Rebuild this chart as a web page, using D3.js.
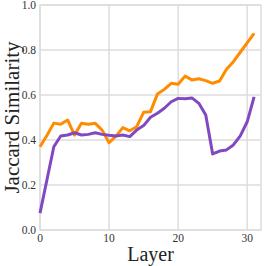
<!DOCTYPE html>
<html>
<head>
<meta charset="utf-8">
<script src="https://cdn.jsdelivr.net/npm/d3@7"></script>
<style>
  html, body { margin: 0; padding: 0; background: #fff; }
  svg { display: block; }
</style>
</head>
<body>
<div class="chart"></div>
<script>
  // data
  var layers      = d3.range(0, 32);
  var orangeVals  = [0.37, 0.42, 0.475, 0.47, 0.489, 0.422, 0.474, 0.47, 0.474, 0.444,
                     0.388, 0.417, 0.455, 0.441, 0.459, 0.523, 0.526, 0.604, 0.625, 0.652,
                     0.648, 0.684, 0.667, 0.672, 0.664, 0.652, 0.662, 0.714, 0.748, 0.79,
                     0.832, 0.874];
  var purpleVals  = [0.075, 0.222, 0.37, 0.418, 0.422, 0.432, 0.422, 0.425, 0.432, 0.425,
                     0.421, 0.418, 0.422, 0.415, 0.444, 0.464, 0.501, 0.519, 0.541, 0.57,
                     0.585, 0.583, 0.587, 0.563, 0.511, 0.338, 0.351, 0.356, 0.378, 0.418,
                     0.481, 0.592];
  var xTicks      = [0, 10, 20, 30];
  var yTicks      = [0.0, 0.2, 0.4, 0.6, 0.8, 1.0];

  var width  = 266,
      height = 266,
      margin = {top: 5, right: 5, bottom: 36, left: 40};

  var svg = d3.select(".chart").append("svg")
              .attr("width", width)
              .attr("height", height);

  var x = d3.scaleLinear().domain([0, 32]).range([margin.left, width - margin.right]);
  var y = d3.scaleLinear().domain([0, 1]).range([height - margin.bottom, margin.top]);

  var gridColor = "#dddddd";
  var font = "'Liberation Serif', 'Times New Roman', serif";

  // grid
  svg.append("g").selectAll("line.gx").data(xTicks).enter().append("line")
     .attr("x1", d => x(d)).attr("x2", d => x(d))
     .attr("y1", y(0)).attr("y2", y(1))
     .attr("stroke", gridColor).attr("stroke-width", 1.5);
  svg.append("g").selectAll("line.gy").data(yTicks).enter().append("line")
     .attr("x1", x(0)).attr("x2", x(32))
     .attr("y1", d => y(d)).attr("y2", d => y(d))
     .attr("stroke", gridColor).attr("stroke-width", 1.5);

  // frame
  svg.append("rect")
     .attr("x", x(0)).attr("y", y(1))
     .attr("width", x(32) - x(0)).attr("height", y(0) - y(1))
     .attr("fill", "none").attr("stroke", gridColor).attr("stroke-width", 1.5);

  // tick labels
  svg.append("g").selectAll("text").data(yTicks).enter().append("text")
     .attr("x", x(0) - 4).attr("y", d => y(d)).attr("dy", "0.35em")
     .attr("text-anchor", "end")
     .style("font-family", font).style("font-size", "11.5px").attr("fill", "#333")
     .text(d => d3.format(".1f")(d));
  svg.append("g").selectAll("text").data(xTicks).enter().append("text")
     .attr("x", d => x(d)).attr("y", y(0) + 12)
     .attr("text-anchor", "middle")
     .style("font-family", font).style("font-size", "11.5px").attr("fill", "#333")
     .text(d => d);

  // axis titles
  svg.append("text")
     .attr("x", (x(0) + x(32)) / 2).attr("y", 261)
     .attr("text-anchor", "middle")
     .style("font-family", font).style("font-size", "20px").attr("fill", "#222")
     .text("Layer");
  svg.append("text")
     .attr("transform", "translate(19," + ((y(0) + y(1)) / 2) + ") rotate(-90)")
     .attr("text-anchor", "middle")
     .style("font-family", font).style("font-size", "21px").attr("fill", "#222")
     .text("Jaccard Similarity");

  // lines
  var line = d3.line().x(d => x(d[0])).y(d => y(d[1]));
  svg.append("path").datum(d3.zip(layers, orangeVals))
     .attr("d", line).attr("fill", "none")
     .attr("stroke", "#ff8c00").attr("stroke-width", 3).attr("stroke-linejoin", "round");
  svg.append("path").datum(d3.zip(layers, purpleVals))
     .attr("d", line).attr("fill", "none")
     .attr("stroke", "#8248c0").attr("stroke-width", 3).attr("stroke-linejoin", "round");
</script>
</body>
</html>
